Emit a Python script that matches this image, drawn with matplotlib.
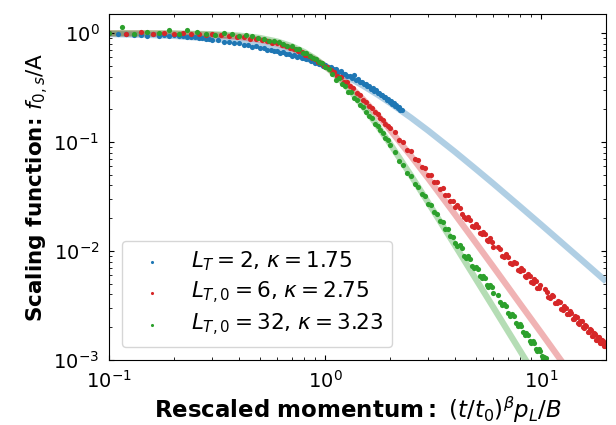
import matplotlib
matplotlib.use("Agg")
import matplotlib.pyplot as plt

# fitted curves 1/(1+x^kappa)
fit_x = [0.1, 0.15, 0.2, 0.3, 0.4, 0.5, 0.6, 0.7, 0.8, 0.9, 1.0, 1.1, 1.2, 1.3,
         1.5, 1.75, 2, 2.5, 3, 4, 5, 6, 7, 8, 10, 12, 15, 20]
fit_blue = [0.9825, 0.965, 0.9436, 0.8916, 0.8324, 0.7708, 0.7097, 0.651, 0.5964, 0.546,
            0.5, 0.4584, 0.4209, 0.3872, 0.3296, 0.273, 0.2291, 0.1675, 0.1276, 0.0812,
            0.0564, 0.0417, 0.0321, 0.0256, 0.01748, 0.01276, 0.00867, 0.00526]
fit_red = [0.9982, 0.9946, 0.9882, 0.9648, 0.9255, 0.8706, 0.8029, 0.7273, 0.6488, 0.572,
           0.5, 0.4348, 0.3772, 0.3271, 0.2469, 0.1767, 0.1294, 0.0745, 0.0465, 0.0216,
           0.01182, 0.0072, 0.00472, 0.00327, 0.00178, 0.001076, 0.000583, 0.000264]
fit_green = [0.9994, 0.9978, 0.9945, 0.9799, 0.9508, 0.9037, 0.8389, 0.76, 0.6727, 0.5843,
             0.5, 0.4236, 0.3568, 0.300, 0.2125, 0.1409, 0.0963, 0.0493, 0.0279, 0.01122,
             0.00549, 0.00306, 0.00186, 0.00121, 0.000589, 0.000327, 0.000159, 0.000063]

# simulation points
blue_x = [0.10, 0.11, 0.12, 0.13, 0.14, 0.15, 0.16, 0.17, 0.18, 0.19, 0.20,
          0.21, 0.22, 0.23, 0.24, 0.25, 0.26, 0.27, 0.28, 0.29, 0.30,
          0.32, 0.34, 0.36, 0.38, 0.40, 0.42, 0.44, 0.46, 0.48, 0.50,
          0.52, 0.54, 0.56, 0.58, 0.60, 0.62, 0.64, 0.66, 0.68, 0.70,
          0.72, 0.74, 0.76, 0.78, 0.80, 0.82, 0.84, 0.86, 0.88, 0.90,
          0.92, 0.94, 0.96, 0.98, 1.00,
          1.03, 1.06, 1.09, 1.12, 1.15, 1.18, 1.21, 1.24, 1.27, 1.30,
          1.33, 1.36, 1.39, 1.42, 1.45, 1.48, 1.51, 1.54, 1.57, 1.60,
          1.63, 1.66, 1.69, 1.72, 1.75, 1.78, 1.81, 1.84, 1.87, 1.90,
          1.93, 1.96, 1.99, 2.02, 2.05, 2.08, 2.11, 2.14, 2.17, 2.20,
          2.23, 2.26]
blue_y = [1.00, 0.975, 0.985, 0.962, 0.972, 0.952, 0.975, 0.948, 0.962, 0.942, 0.955,
          0.933, 0.943, 0.922, 0.925, 0.928, 0.902, 0.905, 0.885, 0.89, 0.872,
          0.865, 0.835, 0.83, 0.805, 0.805, 0.778, 0.775, 0.752, 0.755, 0.728,
          0.73, 0.705, 0.708, 0.682, 0.688, 0.662, 0.668, 0.643, 0.648, 0.622,
          0.632, 0.607, 0.617, 0.593, 0.597, 0.574, 0.577, 0.553, 0.562, 0.538,
          0.542, 0.522, 0.526, 0.504, 0.508,
          0.488, 0.487, 0.465, 0.466, 0.445, 0.446, 0.425, 0.426, 0.405, 0.406,
          0.386, 0.415, 0.37, 0.377, 0.355, 0.356, 0.34, 0.343, 0.325, 0.327,
          0.31, 0.311, 0.295, 0.298, 0.281, 0.285, 0.268, 0.272, 0.257, 0.26,
          0.245, 0.25, 0.235, 0.24, 0.226, 0.229, 0.216, 0.219, 0.206, 0.21,
          0.198, 0.196]

red_x = [0.10, 0.12, 0.14, 0.16, 0.18, 0.20, 0.22, 0.24, 0.26, 0.28,
         0.30, 0.33, 0.36, 0.39, 0.42, 0.45, 0.48, 0.51, 0.54, 0.57,
         0.60, 0.63, 0.66, 0.69, 0.72, 0.75, 0.78, 0.81, 0.84, 0.87,
         0.90, 0.93, 0.96, 0.99, 1.02, 1.06, 1.10, 1.14, 1.18, 1.22,
         1.26, 1.30, 1.35, 1.40, 1.45, 1.50, 1.55, 1.60, 1.65, 1.70,
         1.75, 1.80, 1.85, 1.90, 1.95, 2.00,
         2.1, 2.2, 2.3, 2.4, 2.5, 2.6, 2.7, 2.8, 2.9, 3.0,
         3.1, 3.2, 3.3, 3.4, 3.5, 3.6, 3.7, 3.8, 3.9, 4.0,
         4.1, 4.2, 4.3, 4.4, 4.5, 4.6, 4.7, 4.8, 4.9, 5.0,
         5.1, 5.2, 5.3, 5.4, 5.5, 5.6, 5.7, 5.8, 5.9, 6.0,
         6.3, 6.45, 6.6, 6.75, 6.9, 7.05, 7.2, 7.35, 7.5, 7.65, 7.8, 7.95,
         8.1, 8.25, 8.4, 8.55, 8.7, 8.85, 9.0, 9.15, 9.3, 9.45, 9.6, 9.75, 9.9,
         10.4, 10.6, 10.8, 11.0, 11.2, 11.4, 11.6, 11.8, 12.0, 12.2, 12.4, 12.6,
         12.8, 13.0, 13.2, 13.4, 13.6, 13.8, 14.0, 14.2, 14.4, 14.6, 14.8, 15.0,
         15.2, 15.4, 15.6, 15.8, 16.0, 16.2, 16.4, 16.6, 16.8, 17.0, 17.2, 17.4,
         17.6, 17.8, 18.0, 18.2, 18.4, 18.6, 18.8, 19.0, 19.2, 19.4, 19.6, 19.8, 20.0]
red_y = [1.00, 0.985, 1.02, 0.99, 1.01, 0.985, 1.0, 0.975, 0.99, 0.965,
         0.975, 0.955, 0.95, 0.92, 0.92, 0.89, 0.885, 0.86, 0.85, 0.815,
         0.81, 0.775, 0.765, 0.725, 0.72, 0.68, 0.67, 0.635, 0.62, 0.59,
         0.575, 0.545, 0.53, 0.5, 0.49, 0.455, 0.44, 0.405, 0.395, 0.36,
         0.355, 0.325, 0.315, 0.28, 0.27, 0.245, 0.235, 0.215, 0.205, 0.19,
         0.18, 0.168, 0.16, 0.148, 0.142, 0.135,
         0.125, 0.104, 0.101, 0.085, 0.0835, 0.070, 0.069, 0.0590, 0.0580, 0.0502,
         0.0499, 0.0430, 0.0431, 0.0372, 0.0376, 0.0326, 0.0329, 0.0287, 0.0290, 0.0254,
         0.0262, 0.0251, 0.0221, 0.0204, 0.0198, 0.0207, 0.0194, 0.0171, 0.0168, 0.0177,
         0.0167, 0.0146, 0.0144, 0.0151, 0.0143, 0.0125, 0.0124, 0.0131, 0.0121, 0.0109,
         0.0110, 0.0105, 0.0091, 0.0089, 0.0094, 0.0089, 0.0078, 0.0076, 0.0080, 0.0077,
         0.0067, 0.0066, 0.0070, 0.0067, 0.0059, 0.0058, 0.0062, 0.0059, 0.0052, 0.0051,
         0.0055, 0.0053, 0.0046, 0.0046, 0.0049,
         0.00448, 0.00425, 0.00378, 0.00368, 0.00392, 0.00384, 0.00335, 0.00335, 0.00350,
         0.00338, 0.00296, 0.00290, 0.00311, 0.00302, 0.00265, 0.00262, 0.00280, 0.00272,
         0.00240, 0.00238, 0.00253, 0.00247, 0.00218, 0.00216, 0.00228, 0.00226, 0.00199,
         0.00197, 0.00211, 0.00206, 0.00181, 0.00180, 0.00194, 0.00189, 0.00166, 0.00167,
         0.00178, 0.00174, 0.00154, 0.00154, 0.00164, 0.00161, 0.00142, 0.00143, 0.00152,
         0.00150, 0.00133, 0.00134, 0.00141]

green_x = [0.10, 0.115, 0.13, 0.15, 0.17, 0.19, 0.21, 0.23, 0.255, 0.28,
           0.31, 0.34, 0.37, 0.40, 0.43, 0.46, 0.49, 0.52, 0.55, 0.58,
           0.61, 0.64, 0.67, 0.70, 0.73, 0.76, 0.79, 0.82, 0.85, 0.88,
           0.91, 0.94, 0.97, 1.00, 1.04, 1.08, 1.12, 1.16, 1.20, 1.24,
           1.28, 1.32, 1.36, 1.40, 1.45, 1.50, 1.55, 1.60, 1.65, 1.70,
           1.75, 1.80, 1.85, 1.90, 1.95, 2.00,
           2.1, 2.2, 2.3, 2.4, 2.5, 2.6, 2.7, 2.8, 2.9, 3.0,
           3.1, 3.2, 3.3, 3.4, 3.5, 3.6, 3.7, 3.8, 3.9, 4.0,
           4.1, 4.2, 4.3, 4.4, 4.5, 4.6, 4.7, 4.8, 4.9, 5.0,
           5.1, 5.2, 5.3, 5.4, 5.5, 5.6, 5.7, 5.8, 5.9, 6.0,
           6.3, 6.45, 6.6, 6.75, 6.9, 7.05, 7.2, 7.35, 7.5, 7.65,
           7.8, 7.95, 8.1, 8.25, 8.4, 8.55, 8.7, 8.85, 9.0, 9.15,
           9.3, 9.45, 9.6, 9.75, 9.9, 10.05, 10.2, 10.35, 10.5]
green_y = [1.01, 1.14, 0.99, 1.03, 1.005, 1.065, 0.99, 1.08, 1.02, 0.985,
           0.96, 0.995, 0.99, 0.95, 0.955, 0.945, 0.90, 0.885, 0.84, 0.84,
           0.83, 0.80, 0.77, 0.765, 0.72, 0.715, 0.665, 0.66, 0.62, 0.595,
           0.58, 0.545, 0.53, 0.49, 0.465, 0.42, 0.37, 0.385, 0.34, 0.33,
           0.29, 0.29, 0.255, 0.245, 0.22, 0.21, 0.19, 0.175, 0.165, 0.148,
           0.14, 0.128, 0.121, 0.108, 0.104, 0.094,
           0.081, 0.067, 0.062, 0.052, 0.049, 0.041, 0.039, 0.0332, 0.0318, 0.0272,
           0.0263, 0.0226, 0.0220, 0.0190, 0.0186, 0.0160, 0.0158, 0.0137, 0.0136, 0.0119,
           0.0111, 0.0114, 0.0106, 0.0091, 0.0087, 0.0090, 0.0085, 0.0073, 0.0070, 0.0072,
           0.0068, 0.0059, 0.0057, 0.0059, 0.0056, 0.0049, 0.0047, 0.0049, 0.0047, 0.0041,
           0.00396, 0.00342, 0.00317, 0.00328, 0.00312, 0.0027, 0.00254, 0.00262, 0.00252, 0.0022,
           0.00206, 0.00213, 0.00205, 0.0018, 0.0017, 0.00177, 0.00171, 0.0015, 0.00142, 0.00148,
           0.00144, 0.00126, 0.0012, 0.00125, 0.00122, 0.00108, 0.00103, 0.00107, 0.00105]

labels = [r"$L_T = 2$, $\kappa = 1.75$",
          r"$L_{T,0} = 6$, $\kappa = 2.75$",
          r"$L_{T,0} = 32$, $\kappa = 3.23$"]
colors = ["tab:blue", "tab:red", "tab:green"]

fig = plt.figure(figsize=(6.16, 4.25), dpi=100)
ax = fig.add_axes([0.177, 0.153, 0.807, 0.814])

for fy, c in zip([fit_blue, fit_red, fit_green], colors):
    ax.plot(fit_x, fy, color=c, lw=4.5, alpha=0.35, zorder=1, solid_capstyle="butt")

series = [(blue_x, blue_y), (red_x, red_y), (green_x, green_y)]
for (sx, sy), c, lab in zip(series, colors, labels):
    ax.scatter(sx, sy, s=14, color=c, linewidths=0, label=lab, zorder=2)

ax.set_xscale("log")
ax.set_yscale("log")
ax.set_xlim(0.1, 20)
ax.set_ylim(1e-3, 1.5)

ax.tick_params(which="both", direction="in", top=True, right=True)
ax.tick_params(which="major", labelsize=14, pad=7)

ax.set_xlabel(r"$\bf{Rescaled\ momentum:}$ $(t/t_0)^{\beta}p_L/B$", fontsize=16.5, labelpad=2)
ax.set_ylabel(r"Scaling function: $f_{0,s}/\mathrm{A}$", fontsize=15.5, fontweight="bold",
              labelpad=2)

ax.legend(loc="lower left", fontsize=15.5, scatterpoints=1, markerscale=0.6,
          labelspacing=0.3, borderaxespad=0.6)

fig.savefig("out.png", dpi=100)
